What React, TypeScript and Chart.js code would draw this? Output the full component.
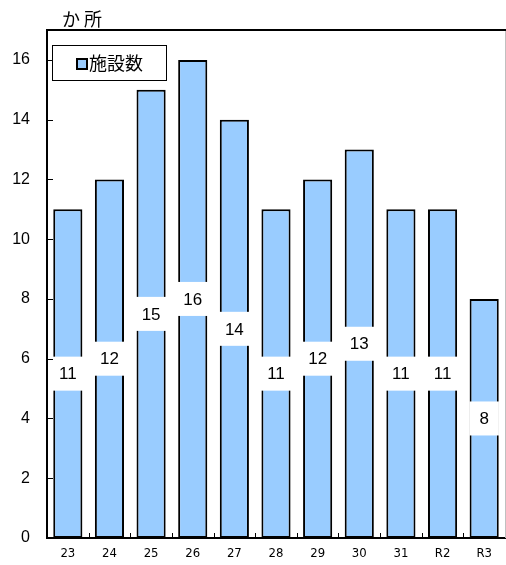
import React, { useEffect, useRef } from "react";
import { Chart, registerables } from "chart.js";

Chart.register(...registerables);

const categories = ["23", "24", "25", "26", "27", "28", "29", "30", "31", "R2", "R3"];
const facilityCounts = [11, 12, 15, 16, 14, 11, 12, 13, 11, 11, 8];
const seriesLabel = "施設数";
const unitLabel = "か所";
const yTickValues = [0, 2, 4, 6, 8, 10, 12, 14, 16];

const BAR_COLOR = "#99CCFF";
const FONT_NUM = "'Liberation Sans', Arial, sans-serif";
const FONT_NARROW = "'Liberation Sans Narrow', 'DejaVu Sans Condensed', 'Liberation Sans', sans-serif";
const FONT_JP = "'Noto Sans CJK JP', sans-serif";

export default function App() {
  const ref = useRef<HTMLCanvasElement>(null);

  useEffect(() => {
    document.body.style.margin = "0";
    const canvas = ref.current;
    if (!canvas) return;

    const customPlugin = {
      id: "customDraw",
      beforeDraw(chart: any) {
        const ctx = chart.ctx;
        ctx.save();
        ctx.fillStyle = "#ffffff";
        ctx.fillRect(0, 0, chart.width, chart.height);
        ctx.restore();
      },
      afterDatasetsDraw(chart: any) {
        const ctx = chart.ctx;
        const meta = chart.getDatasetMeta(0);
        ctx.save();
        ctx.font = `17px ${FONT_NUM}`;
        ctx.textAlign = "center";
        ctx.textBaseline = "middle";
        meta.data.forEach((el: any, i: number) => {
          const text = String(chart.data.datasets[0].data[i]);
          const cx = el.x;
          const cy = (el.y + el.base) / 2;
          const tw = ctx.measureText(text).width;
          const w = tw + 20;
          const h = 34;
          ctx.fillStyle = "#ffffff";
          ctx.fillRect(cx - w / 2, cy - h / 2, w, h);
          ctx.fillStyle = "#000000";
          ctx.fillText(text, cx, cy + 1);
        });
        ctx.restore();
      },
      afterDraw(chart: any) {
        const ctx = chart.ctx;
        const { left, right, top, bottom } = chart.chartArea;
        const xs = chart.scales.x;
        const ys = chart.scales.y;
        ctx.save();
        // right border (light gray)
        ctx.strokeStyle = "#c0c0c0";
        ctx.lineWidth = 1;
        ctx.beginPath();
        ctx.moveTo(right + 0.5, top);
        ctx.lineTo(right + 0.5, bottom);
        ctx.stroke();
        // top border
        ctx.strokeStyle = "#000000";
        ctx.lineWidth = 2;
        ctx.beginPath();
        ctx.moveTo(left - 1, top);
        ctx.lineTo(right + 1, top);
        ctx.stroke();
        // inward y ticks
        ctx.lineWidth = 1;
        yTickValues.forEach((v) => {
          const y = Math.round(ys.getPixelForValue(v)) + 0.5;
          ctx.beginPath();
          ctx.moveTo(left, y);
          ctx.lineTo(left + 6, y);
          ctx.stroke();
        });
        // inward x ticks between categories
        for (let i = 1; i < categories.length; i++) {
          const x = Math.round((xs.getPixelForValue(i - 1) + xs.getPixelForValue(i)) / 2) + 0.5;
          ctx.beginPath();
          ctx.moveTo(x, bottom);
          ctx.lineTo(x, bottom - 5);
          ctx.stroke();
        }
        // unit label
        ctx.fillStyle = "#000000";
        ctx.font = `18px ${FONT_JP}`;
        ctx.textAlign = "left";
        ctx.textBaseline = "middle";
        (ctx as any).letterSpacing = "4px";
        ctx.fillText(unitLabel, 62, 19);
        (ctx as any).letterSpacing = "0px";
        // legend
        const lx = 52.5, ly = 45.5, lw = 114, lh = 35;
        ctx.fillStyle = "#ffffff";
        ctx.fillRect(lx, ly, lw, lh);
        ctx.strokeStyle = "#000000";
        ctx.lineWidth = 1;
        ctx.strokeRect(lx, ly, lw, lh);
        ctx.fillStyle = BAR_COLOR;
        ctx.fillRect(77, 59, 10, 10);
        ctx.lineWidth = 2;
        ctx.strokeRect(77, 59, 10, 10);
        ctx.fillStyle = "#000000";
        ctx.font = `18px ${FONT_JP}`;
        ctx.fillText(chart.data.datasets[0].label, 89, 63);
        ctx.restore();
      },
    };

    const chart = new Chart(canvas, {
      type: "bar",
      data: {
        labels: categories,
        datasets: [
          {
            label: seriesLabel,
            data: facilityCounts,
            backgroundColor: BAR_COLOR,
            borderColor: "#000000",
            borderWidth: 2,
            borderSkipped: false,
            barPercentage: 0.7,
            categoryPercentage: 1,
          },
        ],
      },
      options: {
        responsive: false,
        animation: false,
        devicePixelRatio: 1,
        layout: { padding: { top: 30, right: 1, left: 0, bottom: 0 } },
        plugins: {
          legend: { display: false },
          tooltip: { enabled: false },
          title: { display: false },
        },
        scales: {
          x: {
            grid: { display: false, drawTicks: false },
            border: { display: true, color: "#000000", width: 2 },
            ticks: {
              color: "#000000",
              font: { family: FONT_NARROW, size: 13 },
              padding: 8,
              maxRotation: 0,
              autoSkip: false,
            },
            afterFit: (s: any) => {
              s.height = 27;
            },
          },
          y: {
            min: 0,
            max: 17,
            grid: { display: false, drawTicks: false },
            border: { display: true, color: "#000000", width: 2 },
            ticks: {
              color: "#000000",
              font: { family: FONT_NUM, size: 16 },
              padding: 17,
            },
            afterBuildTicks: (s: any) => {
              s.ticks = yTickValues.map((v) => ({ value: v }));
            },
            afterFit: (s: any) => {
              s.width = 47;
            },
          },
        },
      },
      plugins: [customPlugin],
    });

    return () => chart.destroy();
  }, []);

  return (
    <div style={{ width: 506, height: 565 }}>
      <canvas ref={ref} width={506} height={565} style={{ display: "block" }} />
    </div>
  );
}
